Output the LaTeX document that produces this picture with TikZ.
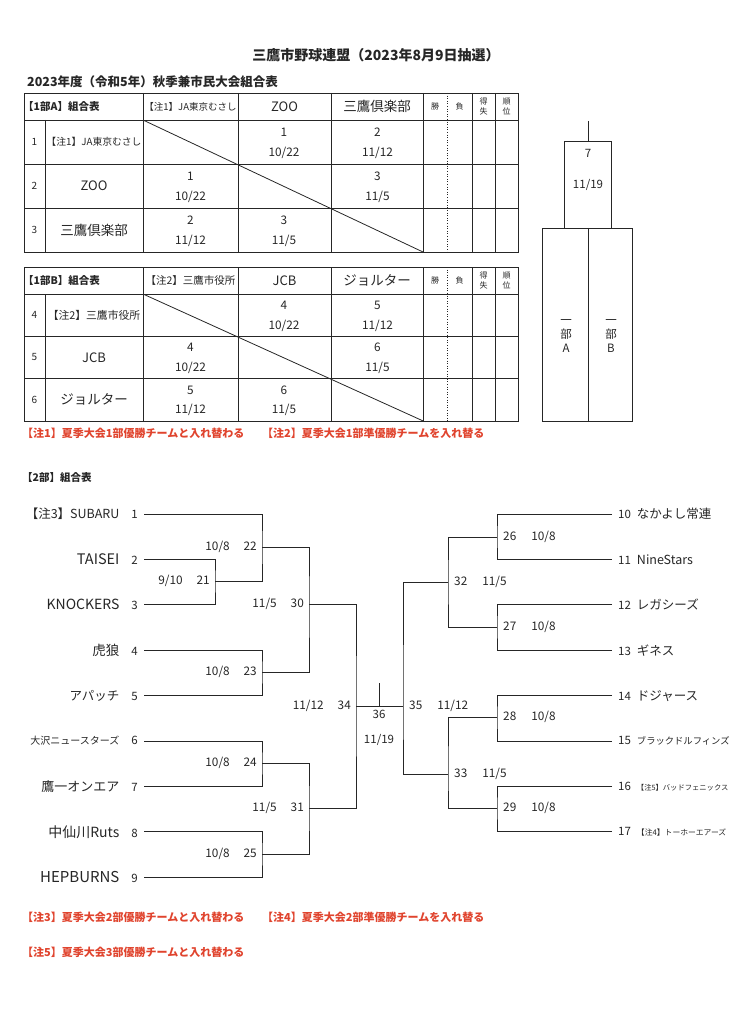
\documentclass[tikz,border=0pt]{standalone}
\usepackage{fontspec}
\setmainfont{Noto Sans CJK JP}
\usepackage{xcolor}
\usetikzlibrary{positioning,calc}
\definecolor{ink}{HTML}{262626}
\definecolor{notered}{HTML}{E0442E}
\newcommand{\fsz}[1]{\fontsize{#1}{#1}\selectfont}

\begin{document}
\begin{tikzpicture}[x=1pt,y=-1pt,inner sep=0pt,font=\fsz{11.5},text=ink]
\tikzset{rule/.style={draw=ink,line width=0.8pt}, brk/.style={draw=ink,line width=1pt}, cell/.style={font=\fsz{11.8}}, lteam/.style={anchor=east,inner xsep=6pt}, rteam/.style={anchor=west,inner xsep=6pt}, lgame/.style={anchor=east,inner xsep=5pt,font=\fsz{11.8}}, rgame/.style={anchor=west,inner xsep=6pt,font=\fsz{11.8}}, note/.style={anchor=west,font=\bfseries\fsz{11},text=notered}, head/.style={anchor=west,font=\bfseries\fsz{10.5}}, tiny/.style={font=\fsz{8},align=center}}
\useasboundingbox (0,0) rectangle (737,1024);
\node[font=\bfseries\fsz{14}] (title) at (376,55) {三鷹市野球連盟（2023年8月9日抽選）};
\node[anchor=west,font=\bfseries\fsz{12.5}] (subtitle) at (27,82) {2023年度（令和5年）秋季兼市民大会組合表};
% 1部 tables, grid
\foreach \T/\R in {93/44,267/42.3}{
  \draw[rule] (24,\T) rectangle (518,\T+27+3*\R);
  \foreach \k in {0,1,2} \draw[rule] (24,\T+27+\k*\R) -- (518,\T+27+\k*\R);
  \foreach \x in {143,238,331,423,472,495} \draw[rule] (\x,\T) -- (\x,\T+27+3*\R);
  \draw[rule] (45,\T+27) -- (45,\T+27+3*\R);
  \draw[ink,dotted,line width=0.6pt] (447,\T) -- (447,\T+27+3*\R);
  \draw[rule] (143,\T+27) -- (423,\T+27+3*\R);
  \node[tiny] (win\T) at (435,\T+13.5) {勝};
  \node[tiny] (lose\T) at (459.5,\T+13.5) {負};
  \node[tiny] (pts\T) at (483.5,\T+13.5) {得\\[2.5pt]失};
  \node[tiny] (rank\T) at (506.5,\T+13.5) {順\\[2.5pt]位};
}
\node[head] (hA) at (23,106.5) {【1部A】組合表};
\node[font=\fsz{9.5}] (hA1) at (190.5,106.5) {【注1】JA東京むさし};
\node[font=\fsz{13}] (hA2) at (284.5,106.5) {ZOO};
\node[font=\fsz{13.5}] (hA3) at (377,106.5) {三鷹倶楽部};
\node[head] (hB) at (23,280.5) {【1部B】組合表};
\node[font=\fsz{10.5}] (hB1) at (190.5,280.5) {【注2】三鷹市役所};
\node[font=\fsz{13}] (hB2) at (284.5,280.5) {JCB};
\node[font=\fsz{13.5}] (hB3) at (377,280.5) {ジョルター};
\foreach \rw/\nm/\f in {1/【注1】JA東京むさし/9.8,2/ZOO/13,3/三鷹倶楽部/13.5}{
  \node[font=\fsz{10}] (nA\rw) at (34.5,120+44*\rw-22) {\rw};
  \node[font=\fsz{\f}] (tA\rw) at (94,120+44*\rw-22) {\nm};
}
\foreach \rw/\nm/\f in {4/【注2】三鷹市役所/10.8,5/JCB/13,6/ジョルター/13.5}{
  \node[font=\fsz{10}] (nB\rw) at (34.5,294+42.3*\rw-148.05) {\rw};
  \node[font=\fsz{\f}] (tB\rw) at (94,294+42.3*\rw-148.05) {\nm};
}
\foreach \T/\R/\rw/\cl/\gm/\dt in {93/44/1/3/1/{10/22},93/44/1/4/2/{11/12},93/44/2/2/1/{10/22},93/44/2/4/3/{11/5},93/44/3/2/2/{11/12},93/44/3/3/3/{11/5},267/42.3/1/3/4/{10/22},267/42.3/1/4/5/{11/12},267/42.3/2/2/4/{10/22},267/42.3/2/4/6/{11/5},267/42.3/3/2/5/{11/12},267/42.3/3/3/6/{11/5}}{
  \pgfmathsetmacro\x{97+93.5*(\cl-1)}
  \node[cell] (g\T-\rw-\cl) at (\x,\T+27+\rw*\R-0.73*\R) {\gm};
  \node[cell] (d\T-\rw-\cl) at (\x,\T+27+\rw*\R-0.25*\R) {\dt};
}
\node[note] (n1) at (22,433) {【注1】夏季大会1部優勝チームと入れ替わる};
\node[note] (n2) at (262,433) {【注2】夏季大会1部準優勝チームを入れ替る};
% 1部 final
\draw[rule] (564,141) rectangle (611,228) (542,228) rectangle (632,421) (588,228) -- (588,421) (588,121) -- (588,141);
\node (g7) at (588,153) {7};
\node (d7) at (588,185) {11/19};
\node[align=center,font=\fsz{11.5}] (partA) at (566,336) {一\\[2.5pt]部\\[2pt]A};
\node[align=center,font=\fsz{11.5}] (partB) at (611,336) {一\\[2.5pt]部\\[2pt]B};
% 2部 bracket
\node[head] (sec2) at (22,478) {【2部】組合表};
\foreach \i/\nm/\f in {1/【注3】SUBARU/12.5,2/TAISEI/14.5,3/KNOCKERS/14,4/虎狼/13.5,5/アパッチ/12.5,6/大沢ニュースターズ/10,7/鷹一オンエア/13,8/中仙川Ruts/14,9/HEPBURNS/15}
  \node[lteam,font=\fsz{\f}] (t\i) at (144,514+45.4*\i-45.4) {\nm\hspace{12pt}{\fsz{11.5}\i}};
\foreach \i/\nm/\f in {10/なかよし常連/12.5,11/NineStars/12.5,12/レガシーズ/12.5,13/ギネス/12.5,14/ドジャース/12.5,15/ブラックドルフィンズ/9.3,16/【注5】バッドフェニックス/7.3,17/【注4】トーホーエアーズ/7.8}
  \node[rteam,font=\fsz{\f}] (t\i) at (612,514+45.4*\i-454) {{\fsz{11.5}\i}\hspace{6pt}\nm};
\coordinate (m21) at (215,581); \coordinate (m22) at (262,547); \coordinate (m23) at (262,672);
\coordinate (m24) at (262,763); \coordinate (m25) at (262,854); \coordinate (m30) at (309,604);
\coordinate (m31) at (309,808); \coordinate (m34) at (356,706); \coordinate (m36) at (379,706);
\coordinate (top36) at (379,683);
\coordinate (m26) at (497,537); \coordinate (m27) at (497,627); \coordinate (m28) at (497,717);
\coordinate (m29) at (497,808); \coordinate (m32) at (448,582); \coordinate (m33) at (448,774);
\coordinate (m35) at (403,706);
\draw[brk] (t2.east) -| (m21) |- (t3.east);
\draw[brk] (t1.east) -| (m22) |- (m21);
\draw[brk] (t4.east) -| (m23) |- (t5.east);
\draw[brk] (t6.east) -| (m24) |- (t7.east);
\draw[brk] (t8.east) -| (m25) |- (t9.east);
\draw[brk] (m22) -| (m30) |- (m23);
\draw[brk] (m24) -| (m31) |- (m25);
\draw[brk] (m30) -| (m34) |- (m31);
\draw[brk] (t10.west) -| (m26) |- (t11.west);
\draw[brk] (t12.west) -| (m27) |- (t13.west);
\draw[brk] (t14.west) -| (m28) |- (t15.west);
\draw[brk] (t16.west) -| (m29) |- (t17.west);
\draw[brk] (m26) -| (m32) |- (m27);
\draw[brk] (m28) -| (m33) |- (m29);
\draw[brk] (m32) -| (m35) |- (m33);
\draw[brk] (m34) -- (m35);
\draw[brk] (m36) -- (top36);
\foreach \m/\dt in {21/{9/10},22/{10/8},23/{10/8},24/{10/8},25/{10/8},30/{11/5},31/{11/5},34/{11/12}}
  \node[lgame] (l\m) at (m\m) {\dt\hspace{14pt}\m};
\foreach \m/\dt in {26/{10/8},27/{10/8},28/{10/8},29/{10/8},32/{11/5},33/{11/5},35/{11/12}}
  \node[rgame] (l\m) at (m\m) {\m\hspace{15pt}\dt};
\node (l36) at (379,714) {36};
\node (d36) at (379,740) {11/19};
\node[note] (n3) at (22,917) {【注3】夏季大会2部優勝チームと入れ替わる};
\node[note] (n4) at (262,917) {【注4】夏季大会2部準優勝チームを入れ替る};
\node[note] (n5) at (22,952) {【注5】夏季大会3部優勝チームと入れ替わる};
\end{tikzpicture}
\end{document}
